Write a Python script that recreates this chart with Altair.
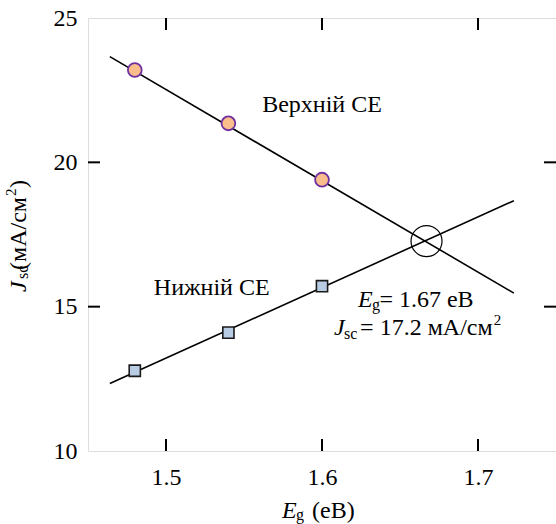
import altair as alt
import pandas as pd

# ---- data ----
eg_points = [1.48, 1.54, 1.60]
jsc_top = [23.2, 21.35, 19.4]
jsc_bottom = [12.78, 14.1, 15.71]

eg_fit = [1.464, 1.723]
fit_top = [23.66, 15.47]
fit_bottom = [12.34, 18.67]

cross_eg = [1.667]
cross_jsc = [17.27]

x_ticks = [1.5, 1.6, 1.7]
y_ticks = [10, 15, 20, 25]

label_top = ["Верхній СЕ"]
label_bottom = ["Нижній СЕ"]

W, H = 468, 433
FONT = "Liberation Serif"

pts = pd.DataFrame({"eg": eg_points, "top": jsc_top, "bottom": jsc_bottom})
fit = pd.DataFrame({"eg": eg_fit, "top": fit_top, "bottom": fit_bottom})
cross = pd.DataFrame({"eg": cross_eg, "jsc": cross_jsc})
xt = pd.DataFrame({"v": x_ticks})
yt = pd.DataFrame({"v": [v for v in y_ticks if v not in (10, 25)]})
one = pd.DataFrame({"k": [0]})

xs = alt.Scale(domain=[1.45, 1.75], nice=False, zero=False)
ys = alt.Scale(domain=[10, 25], nice=False, zero=False)

xax = alt.Axis(values=x_ticks, format=".1f", ticks=False, tickSize=0, domain=False, grid=False,
               title=None, labelFont=FONT, labelFontSize=24, labelColor="black", labelPadding=14)
yax = alt.Axis(values=y_ticks, format="d", ticks=False, tickSize=0, domain=False, grid=False,
               title=None, labelFont=FONT, labelFontSize=24, labelColor="black", labelPadding=11)

base_axes = alt.Chart(pts).mark_point(opacity=0).encode(
    x=alt.X("eg:Q", scale=xs, axis=xax),
    y=alt.Y("top:Q", scale=ys, axis=yax),
)

line_top = alt.Chart(fit).mark_line(color="black", strokeWidth=1.6).encode(
    x=alt.X("eg:Q", scale=xs), y=alt.Y("top:Q", scale=ys))
line_bot = alt.Chart(fit).mark_line(color="black", strokeWidth=1.6).encode(
    x=alt.X("eg:Q", scale=xs), y=alt.Y("bottom:Q", scale=ys))

circ = alt.Chart(pts).mark_point(shape="circle", filled=True, size=190, fill="#F9BE8C",
                                 stroke="#7030A0", strokeWidth=1.8, opacity=1).encode(
    x=alt.X("eg:Q", scale=xs), y=alt.Y("top:Q", scale=ys))
sq = alt.Chart(pts).mark_point(shape="square", filled=True, size=125, fill="#B8CCE4",
                               stroke="#1a1a1a", strokeWidth=1.6, opacity=1).encode(
    x=alt.X("eg:Q", scale=xs), y=alt.Y("bottom:Q", scale=ys))

big = alt.Chart(cross).mark_point(shape="circle", filled=False, size=961, stroke="black",
                                  strokeWidth=1.2, opacity=1).encode(
    x=alt.X("eg:Q", scale=xs), y=alt.Y("jsc:Q", scale=ys))

# inward ticks
tick_top = alt.Chart(xt).mark_rule(color="black", strokeWidth=2).encode(
    x=alt.X("v:Q", scale=xs), y=alt.value(0), y2=alt.value(12))
tick_bot = alt.Chart(xt).mark_rule(color="black", strokeWidth=2).encode(
    x=alt.X("v:Q", scale=xs), y=alt.value(H), y2=alt.value(H - 12))
tick_left = alt.Chart(yt).mark_rule(color="black", strokeWidth=2).encode(
    y=alt.Y("v:Q", scale=ys), x=alt.value(0), x2=alt.value(12))
tick_right = alt.Chart(yt).mark_rule(color="black", strokeWidth=2).encode(
    y=alt.Y("v:Q", scale=ys), x=alt.value(W), x2=alt.value(W - 12))

# in-plot labels
lab_df = pd.DataFrame({"eg": [1.6, 1.5293], "jsc": [21.75, 15.4], "t": label_top + label_bottom})
labels = alt.Chart(lab_df).mark_text(font=FONT, fontSize=24, align="center", baseline="alphabetic",
                                     color="black").encode(
    x=alt.X("eg:Q", scale=xs), y=alt.Y("jsc:Q", scale=ys), text="t:N")

# annotation with subscripts (anchors in data space)
def txt(eg, jsc, text, dx=0, dy=0, size=24, style="normal", align="left"):
    df = pd.DataFrame({"eg": [eg], "jsc": [jsc]})
    return alt.Chart(df).mark_text(font=FONT, fontSize=size, fontStyle=style, align=align,
                                   baseline="alphabetic", dx=dx, dy=dy, color="black",
                                   text=text).encode(
        x=alt.X("eg:Q", scale=xs), y=alt.Y("jsc:Q", scale=ys))

a1 = txt(1.6230, 14.99, "E", style="italic") + \
     txt(1.6230, 14.99, "g", dx=14, dy=3, size=16) + \
     txt(1.6972, 14.99, "= 1.67 eB", align="right")
a2 = txt(1.6077, 14.01, "J", style="italic") + \
     txt(1.6077, 14.01, "sc", dx=10, dy=4, size=16) + \
     txt(1.7094, 14.01, "= 17.2 мА/см", align="right") + \
     txt(1.7094, 14.01, "2", dx=1, dy=-10, size=15)

# axis titles (outside the plot)
def ptxt(text, x, y, size=24, style="normal", angle=0, align="left"):
    return alt.Chart(one).mark_text(font=FONT, fontSize=size, fontStyle=style, align=align,
                                    baseline="alphabetic", angle=angle, color="black",
                                    text=text).encode(x=alt.value(x), y=alt.value(y))

xtitle = ptxt("E", 194, 500, style="italic") + ptxt("g", 208, 502, size=16) + \
         ptxt("(eB)", 224, 500)

yx = -62
ytitle = ptxt("J", yx, 274, style="italic", angle=270) + \
         ptxt("sc", yx + 2, 261, size=16, angle=270) + \
         ptxt("(мА/см", yx, 179, angle=270, align="right") + \
         ptxt("2", yx - 10, 178, size=15, angle=270) + \
         ptxt(")", yx, 170, angle=270)

chart = alt.layer(
    base_axes, line_top, line_bot, big, circ, sq,
    tick_top, tick_bot, tick_left, tick_right,
    labels, a1, a2, xtitle, ytitle,
).properties(
    width=W, height=H,
    autosize=alt.AutoSizeParams(type="none"),
    padding={"left": 88, "top": 18, "right": 0, "bottom": 73},
).configure_view(stroke="black", strokeWidth=2).configure(background="white")

chart.save("out.html", embed_options={"renderer": "svg", "actions": False})
